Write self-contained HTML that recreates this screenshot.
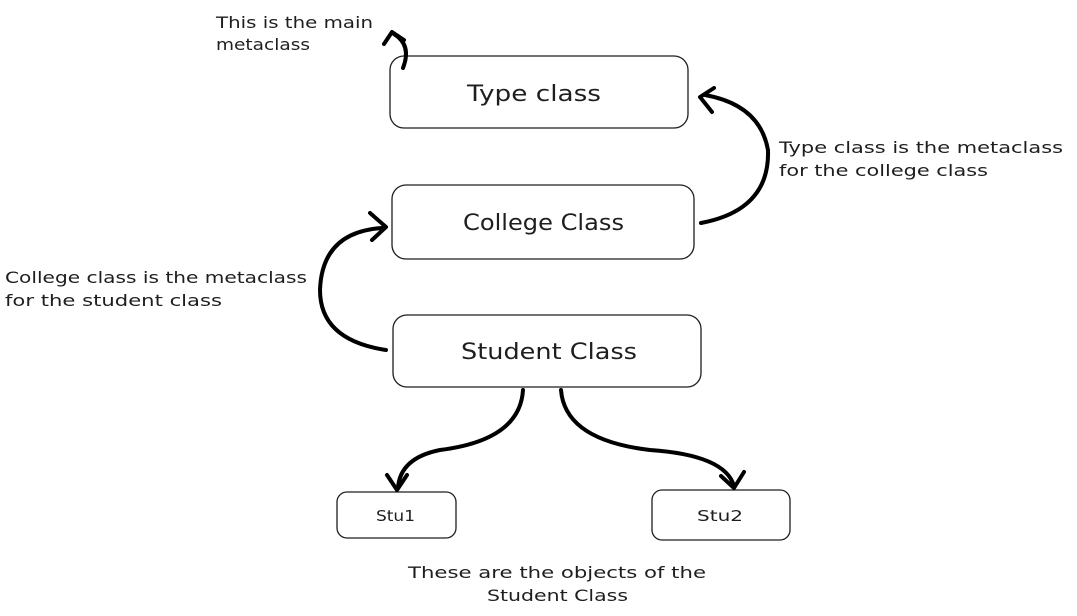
<!DOCTYPE html>
<html><head><meta charset="utf-8"><style>
html,body{margin:0;padding:0;background:#fff;}
body{width:1077px;height:611px;overflow:hidden;}
svg text{font-family:"DejaVu Sans","Liberation Sans",sans-serif;fill:#1e1e1e;}
</style></head><body>
<svg width="1077" height="611" viewBox="0 0 1077 611" xmlns="http://www.w3.org/2000/svg">
<g fill="none" stroke="#1e1e1e" stroke-width="1.3">
<rect x="390" y="56" width="298" height="72" rx="14"/>
<rect x="392" y="185" width="302" height="74" rx="14"/>
<rect x="393" y="315" width="308" height="72" rx="14"/>
<rect x="337" y="492" width="119" height="46" rx="10"/>
<rect x="652" y="490" width="138" height="50" rx="10"/>
</g>
<g fill="none" stroke="#000" stroke-width="4" stroke-linecap="round" stroke-linejoin="round">
<path d="M403 68 Q412 45 394 34"/>
<path d="M384 44 L392 32 L404 40"/>
<path d="M701 223 Q770 210 768 150 Q760 105 705 95"/>
<path d="M714 88 L700 97 L712 112"/>
<path d="M386 350 Q320 340 320 290 Q322 232 382 228"/>
<path d="M370 213 L386 227 L372 240"/>
<path d="M523 390 Q520 440 440 450 Q400 458 398 488"/>
<path d="M387 475 L397 490 L407 475"/>
<path d="M561 390 Q565 440 650 450 Q725 455 734 486"/>
<path d="M721 476 L734 488 L744 472"/>
</g>
<g font-size="22" lengthAdjust="spacingAndGlyphs">
<text x="467" y="101" textLength="134" lengthAdjust="spacingAndGlyphs">Type class</text>
<text x="463" y="230" textLength="161" lengthAdjust="spacingAndGlyphs">College Class</text>
<text x="461" y="359" textLength="176" lengthAdjust="spacingAndGlyphs">Student Class</text>
</g>
<g font-size="15">
<text x="376" y="521" textLength="39" lengthAdjust="spacingAndGlyphs">Stu1</text>
<text x="697" y="521" textLength="46" lengthAdjust="spacingAndGlyphs">Stu2</text>
</g>
<g font-size="16">
<text x="216" y="28" textLength="157" lengthAdjust="spacingAndGlyphs">This is the main</text>
<text x="216" y="50" textLength="94" lengthAdjust="spacingAndGlyphs">metaclass</text>
<text x="779" y="153" textLength="284" lengthAdjust="spacingAndGlyphs">Type class is the metaclass</text>
<text x="779" y="176" textLength="209" lengthAdjust="spacingAndGlyphs">for the college class</text>
<text x="5" y="283" textLength="302" lengthAdjust="spacingAndGlyphs">College class is the metaclass</text>
<text x="5" y="306" textLength="217" lengthAdjust="spacingAndGlyphs">for the student class</text>
<text x="408" y="578" textLength="298" lengthAdjust="spacingAndGlyphs">These are the objects of the</text>
<text x="487" y="601" textLength="141" lengthAdjust="spacingAndGlyphs">Student Class</text>
</g>
</svg>
</body></html>
